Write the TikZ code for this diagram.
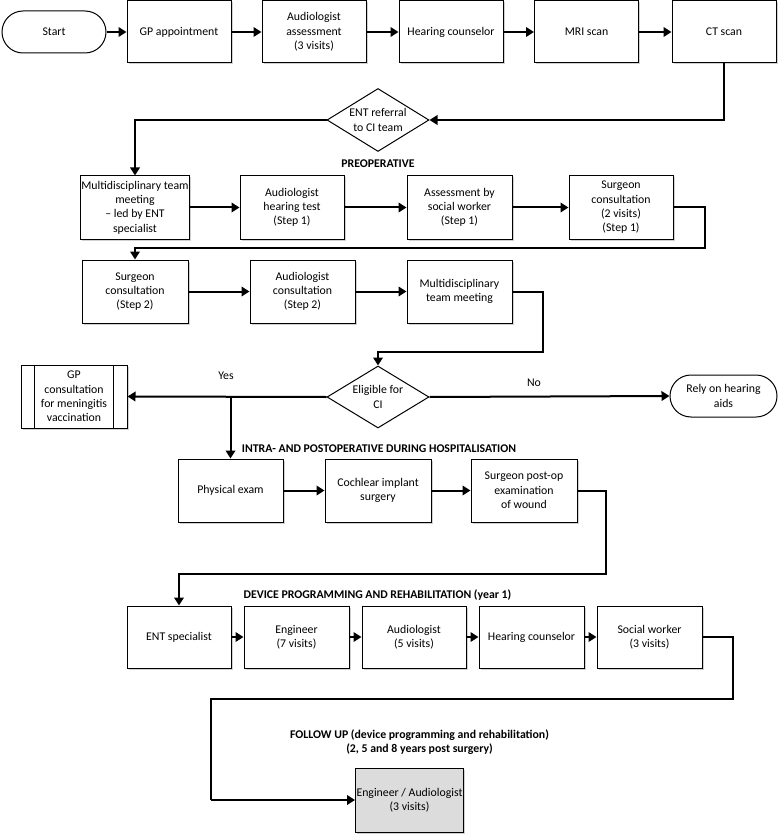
\documentclass[tikz,border=0pt]{standalone}
\usepackage{fontspec}
\setmainfont{Carlito}
\usetikzlibrary{arrows.meta,shapes.geometric,shadows}
\tikzset{
  box/.style={draw, line width=1pt, minimum width=105pt, minimum height=63pt, align=center, inner sep=1pt, fill=white,
    drop shadow={shadow xshift=1.5pt, shadow yshift=-1.5pt, opacity=0.18, fill=black}},
  term/.style={draw, line width=1pt, rounded corners=21pt, minimum width=104pt, minimum height=42pt, align=center, fill=white},
  dia/.style={draw, diamond, line width=1pt, aspect=1.62, inner sep=-2pt, minimum width=102pt, minimum height=63pt, align=center, fill=white},
  conn/.style={line width=2pt, -{Triangle[length=8pt,width=9.5pt]}},
  plain/.style={line width=2pt},
  lab/.style={font=\fontsize{11.8}{14.3}\selectfont\bfseries, align=center}
}
\begin{document}
\begin{tikzpicture}[x=1pt, y=-1pt, font=\fontsize{11.8}{14.3}\selectfont]
\fill[white] (0,0) rectangle (778,834);
\useasboundingbox (0,0) rectangle (778,834);

% top row
\node[term] (start) at (54,32) {Start};
\node[box, minimum width=104pt, minimum height=62pt] (gp) at (179,32) {GP appointment};
\node[box, minimum width=104pt, minimum height=62pt] (aud1) at (314,32) {Audiologist\\assessment\\(3 visits)};
\node[box, minimum width=104pt, minimum height=62pt] (hc1) at (451,32) {Hearing counselor};
\node[box, minimum width=104pt, minimum height=62pt] (mri) at (586.5,32) {MRI scan};
\node[box, minimum width=104pt, minimum height=62pt] (ct) at (724,32) {CT scan};

\node[dia] (ent) at (378,120) {ENT referral\\to CI team};
\node[lab] (preop) at (378,164) {PREOPERATIVE};

% preoperative row 1
\node[box, minimum width=106pt] (mdt) at (135,207.5) {Multidisciplinary team\\meeting\\– led by ENT\\specialist};
\node[box, minimum width=104pt] (aht) at (292,207.5) {Audiologist\\hearing test\\(Step 1)};
\node[box] (asw) at (459.5,207.5) {Assessment by\\social worker\\(Step 1)};
\node[box, minimum width=104pt] (sc1) at (621,207.5) {Surgeon\\consultation\\(2 visits)\\(Step 1)};

% preoperative row 2
\node[box, minimum width=106pt] (sc2) at (135,291.5) {Surgeon\\consultation\\(Step 2)};
\node[box] (ac2) at (302.5,291.5) {Audiologist\\consultation\\(Step 2)};
\node[box] (mdt2) at (459.5,291.5) {Multidisciplinary\\team meeting};

% decision
\node[dia, minimum height=62pt] (elig) at (378,397) {Eligible for\\CI};
\node[box, minimum width=106pt] (gpc) at (74,396.5) {GP\\consultation\\for meningitis\\vaccination};
\draw[line width=1pt] ([xshift=14pt]gpc.north west) -- ([xshift=14pt]gpc.south west);
\draw[line width=1pt] ([xshift=-14pt]gpc.north east) -- ([xshift=-14pt]gpc.south east);
\node[term, minimum width=107pt] (rely) at (723.5,396) {Rely on hearing\\aids};
\node (yes) at (226,376) {Yes};
\node (no) at (534,383) {No};

% intra/postoperative
\node[lab] (intra) at (379,449) {INTRA- AND POSTOPERATIVE DURING HOSPITALISATION};
\node[box] (phys) at (230.5,490.5) {Physical exam};
\node[box, minimum width=106pt] (ci) at (378,490.5) {Cochlear implant\\surgery};
\node[box, minimum width=106pt] (spo) at (524,490.5) {Surgeon post-op\\examination\\of wound};

% device programming
\node[lab] (dev) at (377.5,595) {DEVICE PROGRAMMING AND REHABILITATION (year 1)};
\node[box, minimum width=104pt, minimum height=62pt] (ents) at (179,637) {ENT specialist};
\node[box, minimum height=62pt] (eng) at (296.5,637) {Engineer\\(7 visits)};
\node[box, minimum width=104pt, minimum height=62pt] (aud) at (414,637) {Audiologist\\(5 visits)};
\node[box, minimum height=62pt] (hc2) at (531.5,637) {Hearing counselor};
\node[box, minimum height=62pt] (sw) at (649.5,637) {Social worker\\(3 visits)};

% follow up
\node[lab] (fu) at (419.5,742) {FOLLOW UP (device programming and rehabilitation)\\(2, 5 and 8 years post surgery)};
\node[box, fill={rgb,255:red,220;green,220;blue,220}, minimum height=64pt] (fin) at (409.5,800) {Engineer / Audiologist\\(3 visits)};

% coordinates for bends
\coordinate (b1) at (705,248);
\coordinate (b2) at (543,352);
\coordinate (b3) at (606,574);
\coordinate (b4) at (733,699);
\coordinate (b5) at (211,800);
\coordinate (yb) at (phys.north |- elig.west);

% connectors
\draw[conn] (start) -- (gp);
\draw[conn] (gp) -- (aud1);
\draw[conn] (aud1) -- (hc1);
\draw[conn] (hc1) -- (mri);
\draw[conn] (mri) -- (ct);
\draw[conn] (ct.south) |- (ent.east);
\draw[conn] (ent.west) -| (mdt.north);

\draw[conn] (mdt) -- (aht);
\draw[conn] (aht) -- (asw);
\draw[conn] (asw) -- (sc1);
\draw[conn] (sc1.east) -| (b1) -| (sc2.north);

\draw[conn] (sc2) -- (ac2);
\draw[conn] (ac2) -- (mdt2);
\draw[conn] (mdt2.east) -| (b2) -| (elig.north);

\draw[conn] (elig.west) -- (gpc.east);
\draw[conn] (elig.east) -- (rely.west);
\draw[conn] (yb) -- (phys.north);

\draw[conn] (phys) -- (ci);
\draw[conn] (ci) -- (spo);
\draw[conn] (spo.east) -| (b3) -| (ents.north);

\draw[conn] (ents) -- (eng);
\draw[conn] (eng) -- (aud);
\draw[conn] (aud) -- (hc2);
\draw[conn] (hc2) -- (sw);
\draw[plain] (sw.east) -| (b4) -| (b5);
\draw[conn] (b5) -- (fin.west);
\end{tikzpicture}
\end{document}
